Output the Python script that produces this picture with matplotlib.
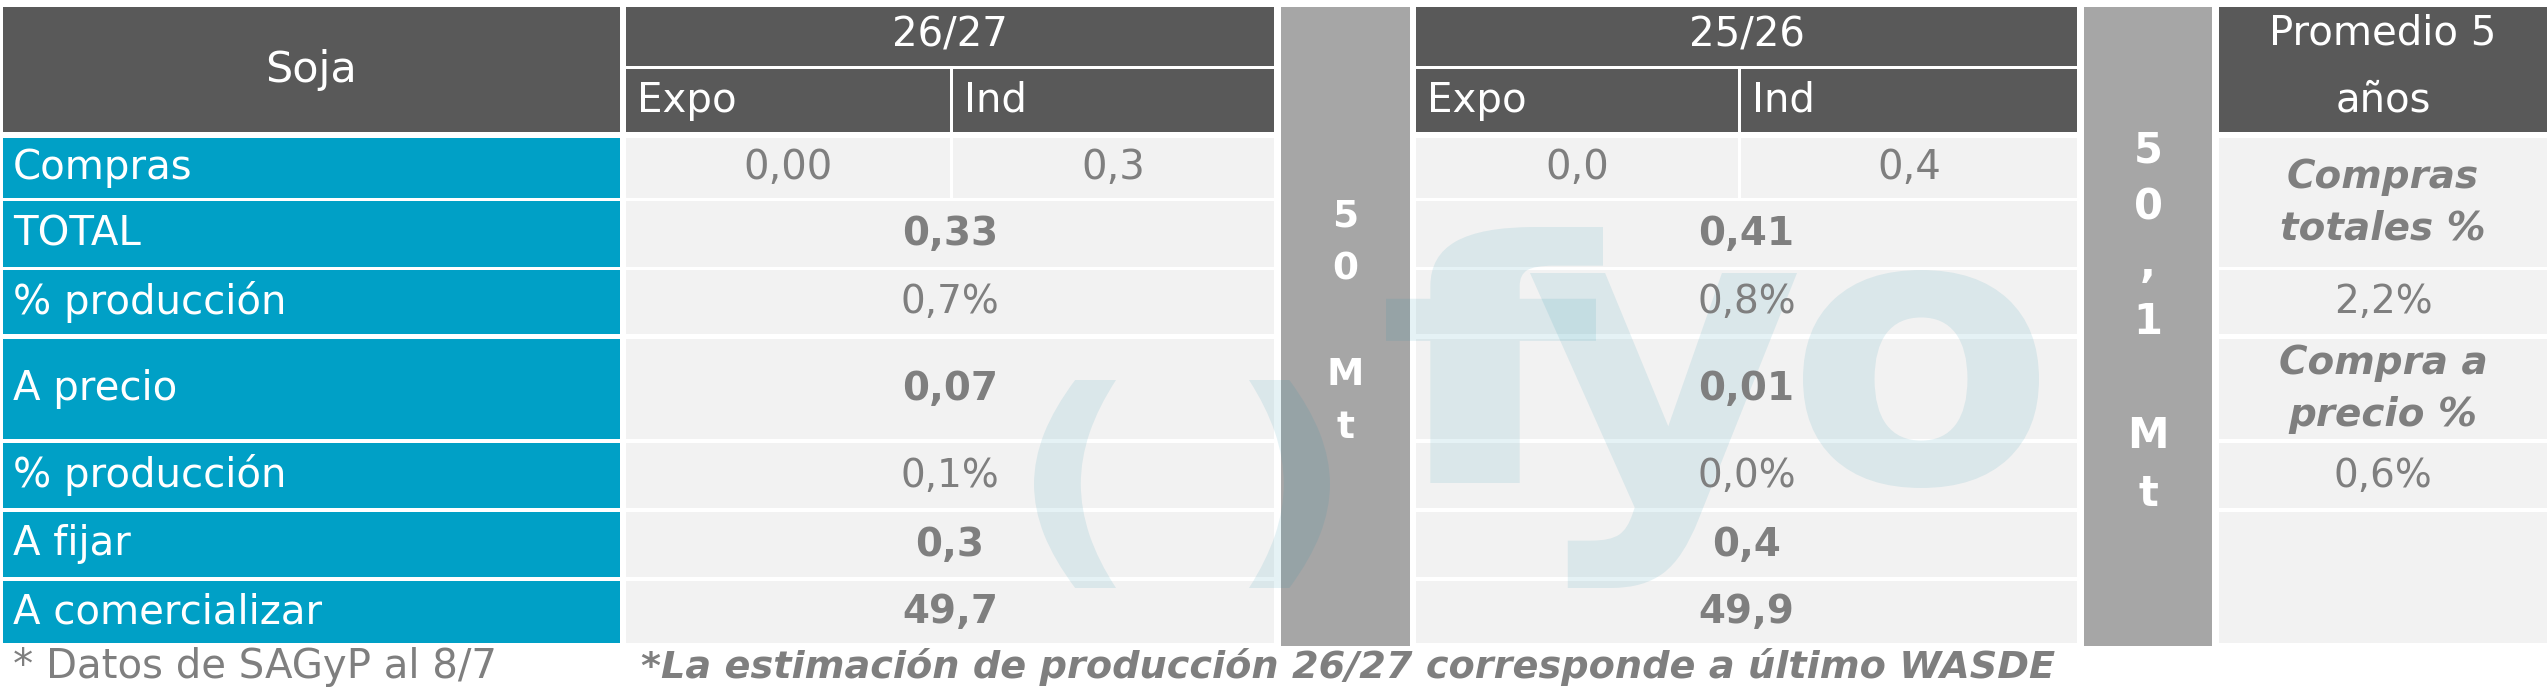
import matplotlib
matplotlib.use("Agg")
import matplotlib.pyplot as plt
from matplotlib.patches import Rectangle, PathPatch
from matplotlib.textpath import TextPath
from matplotlib.font_manager import FontProperties
from matplotlib.transforms import Affine2D

# ---------------------------------------------------------------
# data
# ---------------------------------------------------------------
title = "Soja"
row_labels = ["Compras", "TOTAL", "% producción", "A precio",
              "% producción", "A fijar", "A comercializar"]
campaigns = ["26/27", "25/26"]
sub_cols = ["Expo", "Ind"]
compras_2627 = ["0,00", "0,3"]
compras_2526 = ["0,0", "0,4"]
vals_2627 = ["0,33", "0,7%", "0,07", "0,1%", "0,3", "49,7"]
vals_2526 = ["0,41", "0,8%", "0,01", "0,0%", "0,4", "49,9"]
bold_rows = [True, False, True, False, True, True]
production = ["50 Mt", "50,1 Mt"]
avg_header = "Promedio 5\naños"
avg_cells = ["Compras\ntotales %", "2,2%", "Compra a\nprecio %", "0,6%", ""]
note_left = "* Datos de SAGyP al 8/7"
note_right = "*La estimación de producción 26/27 corresponde a último WASDE"

# ---------------------------------------------------------------
# layout (pixels) and colours
# ---------------------------------------------------------------
W, H = 2547, 693
row_top = [138, 201, 270, 339, 443, 512, 581]
row_bot = [198, 267, 334, 439, 508, 577, 643]
col_label = (3, 620)
camp_cols = [[(626, 950), (953, 1274)], [(1416, 1738), (1741, 2077)]]
prod_cols = [(1281, 1410), (2084, 2212)]
avg_col = (2219, 2547)
avg_spans = [(0, 1), (2, 2), (3, 3), (4, 4), (5, 6)]

c_dark = "#595959"
c_blue = "#00A0C6"
c_light = "#F2F2F2"
c_grey = "#A6A6A6"
c_text = "#7F7F7F"
c_mark = "#1A8FAA"
fs = 28      # values
fs_head = 29  # headers and row labels

plt.rcParams['font.family'] = ['DejaVu Sans']

fig = plt.figure(figsize=(W / 100, H / 100), dpi=100)
ax = fig.add_axes([0, 0, 1, 1])
ax.set_xlim(0, W)
ax.set_ylim(H, 0)
ax.axis('off')


def cell(x0, x1, y0, y1, color):
    ax.add_patch(Rectangle((x0, y0), x1 - x0, y1 - y0, fc=color, ec='none', zorder=1))


def glyph(ch, x0, x1, y0, y1):
    # logo letter squeezed into its box, drawn as a faint overlay
    tp = TextPath((0, 0), ch, size=100,
                  prop=FontProperties(family='DejaVu Sans', weight='bold'))
    bb = tp.get_extents()
    tr = (Affine2D().translate(-bb.x0, -bb.y1)
          .scale((x1 - x0) / bb.width, -(y1 - y0) / bb.height)
          .translate(x0, y0))
    ax.add_patch(PathPatch(tr.transform_path(tp), fc=c_mark, ec='none',
                           alpha=0.11, zorder=2))


# header
cell(col_label[0], col_label[1], 7, 132, c_dark)
ax.text(sum(col_label) / 2, 70, title, color='white', fontsize=31,
        ha='center', va='center', zorder=3)
for k, camp in enumerate(campaigns):
    (e0, e1), (i0, i1) = camp_cols[k]
    cell(e0, i1, 7, 66, c_dark)
    ax.text((e0 + i1) / 2, 36, camp, color='white', fontsize=fs_head,
            ha='center', va='center', zorder=3)
    for (s0, s1), name in zip(camp_cols[k], sub_cols):
        cell(s0, s1, 69, 132, c_dark)
        ax.text(s0 + 11, 101, name, color='white', fontsize=fs_head,
                ha='left', va='center', zorder=3)
cell(avg_col[0], avg_col[1], 7, 132, c_dark)
ax.text(sum(avg_col) / 2, 67, avg_header, color='white', fontsize=fs_head,
        ha='center', va='center', linespacing=1.85, zorder=3)

# row labels
for r, lab in enumerate(row_labels):
    cell(col_label[0], col_label[1], row_top[r], row_bot[r], c_blue)
    ax.text(col_label[0] + 10, (row_top[r] + row_bot[r]) / 2, lab,
            color='white', fontsize=fs_head, ha='left', va='center', zorder=3)

# campaign values
for k, (compras, vals) in enumerate([(compras_2627, vals_2627),
                                     (compras_2526, vals_2526)]):
    (e0, e1), (i0, i1) = camp_cols[k]
    yc = (row_top[0] + row_bot[0]) / 2
    for (s0, s1), v in zip(camp_cols[k], compras):
        cell(s0, s1, row_top[0], row_bot[0], c_light)
        ax.text((s0 + s1) / 2, yc, v, color=c_text, fontsize=29,
                ha='center', va='center', zorder=3)
    for r, v in enumerate(vals, start=1):
        cell(e0, i1, row_top[r], row_bot[r], c_light)
        ax.text((e0 + i1) / 2, (row_top[r] + row_bot[r]) / 2, v,
                color=c_text, fontsize=fs, ha='center', va='center',
                fontweight='bold' if bold_rows[r - 1] else 'normal', zorder=3)

# production columns (vertical text)
for (p0, p1), txt, size, ls in zip(prod_cols, production, [27, 30], [1.6, 1.46]):
    cell(p0, p1, 7, 646, c_grey)
    ax.text((p0 + p1) / 2, 322, "\n".join(txt), color='white', fontsize=size,
            fontweight='bold', ha='center', va='center', linespacing=ls,
            zorder=3)

# five year average column
for (a, b), txt in zip(avg_spans, avg_cells):
    cell(avg_col[0], avg_col[1], row_top[a], row_bot[b], c_light)
    pct = txt[:1].isdigit()
    ax.text(sum(avg_col) / 2, (row_top[a] + row_bot[b]) / 2, txt,
            color=c_text, fontsize=fs, ha='center', va='center',
            fontweight='normal' if pct else 'bold',
            fontstyle='normal' if pct else 'italic',
            linespacing=1.45, zorder=3)

# watermark logo
glyph("(", 1034, 1116, 380, 588)
glyph(")", 1249, 1330, 380, 588)
glyph("f", 1386, 1603, 227, 483)
glyph("y", 1530, 1797, 273, 588)
glyph("o", 1803, 2039, 270, 488)

# footnotes
ax.text(13, 667, note_left, color=c_text, fontsize=29, ha='left',
        va='center', zorder=3)
ax.text(641, 667, note_right, color=c_text, fontsize=27.5, ha='left',
        va='center', fontweight='bold', fontstyle='italic', zorder=3)

fig.savefig("out.png", dpi=100, facecolor='white')
